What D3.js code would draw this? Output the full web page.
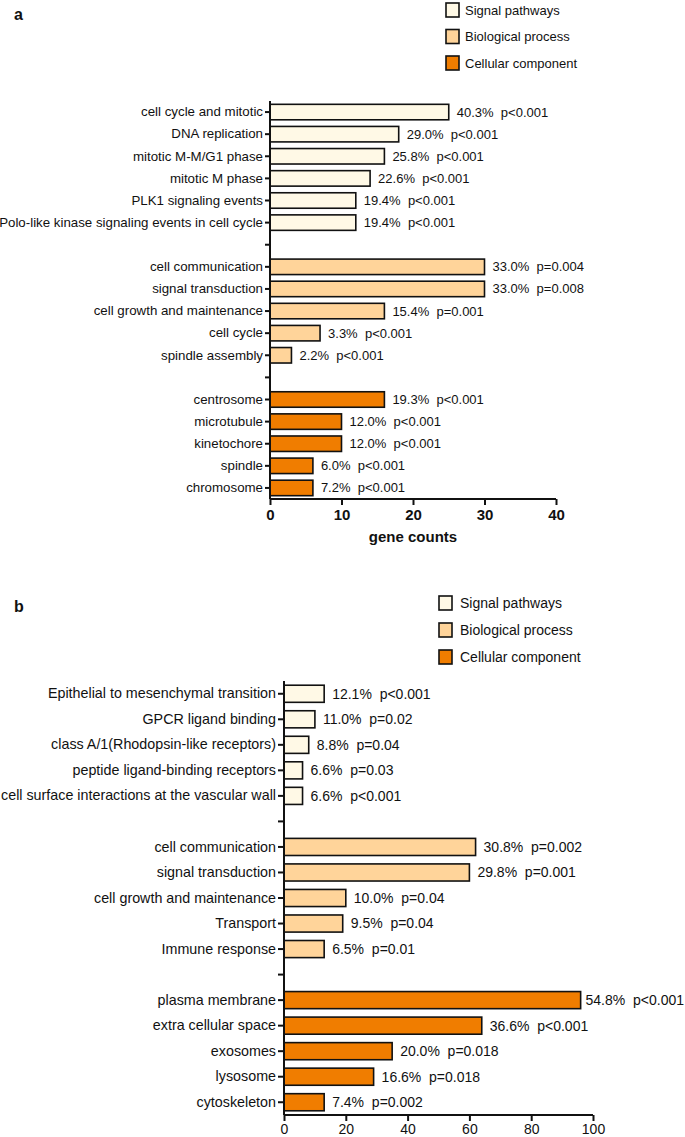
<!DOCTYPE html>
<html><head><meta charset="utf-8">
<script src="https://cdn.jsdelivr.net/npm/d3@7"></script>
<style>body{margin:0;background:#fff}svg{display:block}text{font-family:"Liberation Sans",Arial,sans-serif}</style>
</head><body>
<svg id="c" width="685" height="1137"></svg>
<script>
const groupNames = ["Signal pathways","Biological process","Cellular component"];
const groupColors = ["#FFF9E6","#FFD49A","#F07D00"];

const aCategories = ["cell cycle and mitotic","DNA replication","mitotic M-M/G1 phase","mitotic M phase","PLK1 signaling events","Polo-like kinase signaling events in cell cycle","","cell communication","signal transduction","cell growth and maintenance","cell cycle","spindle assembly","","centrosome","microtubule","kinetochore","spindle","chromosome"];
const aValues = [25,18,16,14,12,12,null,30,30,16,7,3,null,16,10,10,6,6];
const aGroups = [0,0,0,0,0,0,null,1,1,1,1,1,null,2,2,2,2,2];
const aNotes = ["40.3%  p<0.001","29.0%  p<0.001","25.8%  p<0.001","22.6%  p<0.001","19.4%  p<0.001","19.4%  p<0.001","","33.0%  p=0.004","33.0%  p=0.008","15.4%  p=0.001","3.3%  p<0.001","2.2%  p<0.001","","19.3%  p<0.001","12.0%  p<0.001","12.0%  p<0.001","6.0%  p<0.001","7.2%  p<0.001"];
const aTicks = [0,10,20,30,40];

const bCategories = ["Epithelial to mesenchymal transition","GPCR ligand binding","class A/1(Rhodopsin-like receptors)","peptide ligand-binding receptors","cell surface interactions at the vascular wall","","cell communication","signal transduction","cell growth and maintenance","Transport","Immune response","","plasma membrane","extra cellular space","exosomes","lysosome","cytoskeleton"];
const bValues = [13,10,8,6,6,null,62,60,20,19,13,null,96,64,35,29,13];
const bGroups = [0,0,0,0,0,null,1,1,1,1,1,null,2,2,2,2,2];
const bNotes = ["12.1%  p<0.001","11.0%  p=0.02","8.8%  p=0.04","6.6%  p=0.03","6.6%  p<0.001","","30.8%  p=0.002","29.8%  p=0.001","10.0%  p=0.04","9.5%  p=0.04","6.5%  p=0.01","","54.8%  p<0.001","36.6%  p<0.001","20.0%  p=0.018","16.6%  p=0.018","7.4%  p=0.002"];
const bTicks = [0,20,40,60,80,100];

const W = 685;
const svg = d3.select("#c");

function panel(cfg){
  const g = svg.append("g");
  const idx = cfg.cats.map((d,i)=>i);
  const x = d3.scaleLinear().domain([0,cfg.max]).range([cfg.x0,cfg.x1]);
  const y = d3.scaleBand().domain(idx).range([cfg.y0,cfg.y1]).paddingInner(cfg.pad).paddingOuter(cfg.pad/2);
  g.selectAll("rect.bar").data(idx.filter(i=>cfg.vals[i]!=null)).join("rect")
    .attr("x",x(0)).attr("y",i=>y(i)).attr("width",i=>x(cfg.vals[i])-x(0)).attr("height",y.bandwidth())
    .attr("fill",i=>groupColors[cfg.groups[i]]).attr("stroke","#111").attr("stroke-width",1.6);
  g.selectAll("text.note").data(idx.filter(i=>cfg.vals[i]!=null)).join("text")
    .attr("x",i=>x(cfg.vals[i])+cfg.noteGap).attr("y",i=>y(i)+y.bandwidth()/2).attr("dy","0.35em")
    .attr("font-size",cfg.nfs).attr("fill","#111").style("white-space","pre").text(i=>cfg.notes[i])
    .each(function(i){
      const w = this.getComputedTextLength();
      const x0 = x(cfg.vals[i])+cfg.noteGap;
      if(x0+w > W-1){ d3.select(this).attr("x", Math.max(x(cfg.vals[i])+3, W-1-w)); }
      const w2 = this.getComputedTextLength();
      const xs = +d3.select(this).attr("x");
      if(xs+w2 > W-1){ d3.select(this).attr("textLength", W-1-xs).attr("lengthAdjust","spacingAndGlyphs"); }
    });
  const ya = d3.axisLeft(y).tickSize(cfg.tick).tickPadding(2).tickFormat(i=>cfg.cats[i]);
  const yg = g.append("g").attr("transform",`translate(${x(0)},0)`).call(ya);
  yg.select(".domain").attr("stroke","#111").attr("stroke-width",2).attr("d",`M0,${cfg.y0}V${cfg.y1}`);
  yg.selectAll(".tick line").attr("stroke","#111").attr("stroke-width",2);
  yg.selectAll(".tick text").attr("font-size",cfg.fs).attr("fill","#111").attr("font-family",null);
  const xa = d3.axisBottom(x).tickValues(cfg.ticks).tickSize(6).tickPadding(cfg.xpad);
  const xg = g.append("g").attr("transform",`translate(0,${cfg.y1})`).call(xa);
  xg.select(".domain").attr("stroke","#111").attr("stroke-width",2).attr("d",`M${cfg.x0},0H${cfg.x1}`);
  xg.selectAll(".tick line").attr("stroke","#111").attr("stroke-width",2);
  xg.selectAll(".tick text").attr("font-size",cfg.xfs).attr("font-weight",cfg.xbold?"bold":"normal").attr("fill","#111").attr("font-family",null);
  if(cfg.xlabel){
    g.append("text").attr("x",(cfg.x0+cfg.x1)/2).attr("y",cfg.y1+43).attr("text-anchor","middle")
      .attr("font-size",15).attr("font-weight","bold").attr("fill","#111").text(cfg.xlabel);
  }
  groupNames.forEach((n,k)=>{
    const ly = cfg.ly + k*cfg.lstep;
    g.append("rect").attr("x",cfg.lx).attr("y",ly).attr("width",13).attr("height",14)
      .attr("fill",groupColors[k]).attr("stroke","#111").attr("stroke-width",1.6);
    g.append("text").attr("x",cfg.lx+cfg.ltx).attr("y",ly+7).attr("dy","0.35em").attr("font-size",cfg.lfs).attr("fill","#111").text(n);
  });
  g.append("text").attr("x",14).attr("y",cfg.labY).attr("font-size",16).attr("font-weight","bold").attr("fill","#111").text(cfg.letter);
}

panel({cats:aCategories,vals:aValues,groups:aGroups,notes:aNotes,ticks:aTicks,max:40,
  x0:270,x1:556,y0:101,y1:499,pad:0.3,tick:5,fs:13.3,nfs:13,xfs:15,xpad:4,xbold:true,noteGap:8,xlabel:"gene counts",
  lx:446,ly:3,lstep:26.5,lfs:13,ltx:19,letter:"a",labY:20});
panel({cats:bCategories,vals:bValues,groups:bGroups,notes:bNotes,ticks:bTicks,max:100,
  x0:284,x1:593,y0:681,y1:1115,pad:0.33,tick:6,fs:14.3,nfs:14,xfs:14,xpad:3,xbold:false,noteGap:8,xlabel:null,
  lx:439,ly:596,lstep:27,lfs:14,ltx:21,letter:"b",labY:612});
</script>
</body></html>
